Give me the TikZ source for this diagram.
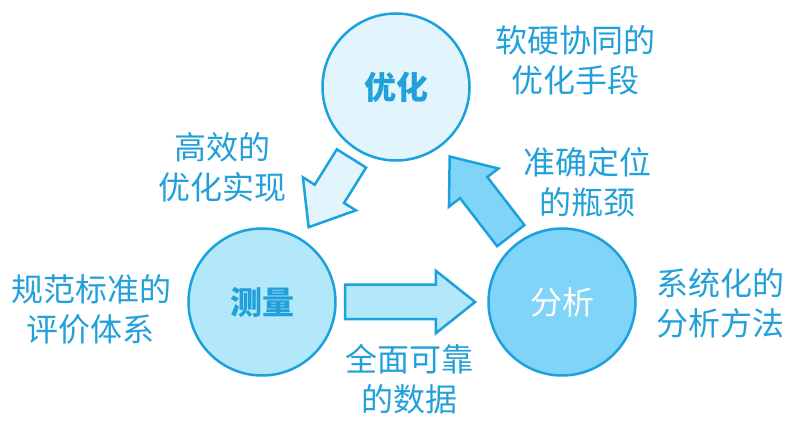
\documentclass[tikz,border=0pt]{standalone}
\usepackage{fontspec}
\newfontfamily\cjk{Noto Sans CJK SC}
\usetikzlibrary{shapes.arrows, positioning}
\definecolor{lineblue}{HTML}{1BA1DD}
\definecolor{textblue}{HTML}{22A0DA}
\definecolor{fillA}{HTML}{E3F5FC}
\definecolor{fillB}{HTML}{B3E7FA}
\definecolor{fillC}{HTML}{7FD4F7}
\tikzset{
  stage/.style={circle, minimum size=147pt, inner sep=0pt, draw=lineblue, line width=2.5pt, font=\cjk\fontsize{32}{38}\selectfont},
  note/.style={align=center, inner sep=0pt, text=textblue, font=\cjk\fontsize{32}{40}\selectfont},
  blockarrow/.style={single arrow, draw=lineblue, line width=2.5pt, inner xsep=0pt, inner ysep=16pt, single arrow head extend=14pt, single arrow tip angle=77, sloped, allow upside down, anchor=tip}
}

\begin{document}
\begin{tikzpicture}[x=1pt, y=1pt]
  \useasboundingbox (0,0) rectangle (800,422);

  % --- Circulos ---
  \node (opt) [stage, fill=fillA, text=textblue] at (396,335) {\bfseries 优化};
  \node (msr) [stage, fill=fillB, text=textblue] at (262,120) {\bfseries 测量};
  \node (ana) [stage, fill=fillC, text=white] at (562,120) {分析};

  % --- Flechas de bloque ---
  \path (opt.center) -- (msr.center) node (a1) [blockarrow, fill=fillA, minimum height=81pt, pos=0.66] {};
  \path (msr.center) -- (ana.center) node (a2) [blockarrow, fill=fillB, minimum height=130pt, pos=0.717] {};
  \path (ana.center) -- (opt.center) node (a3) [blockarrow, fill=fillC, minimum height=100pt, pos=0.684] {};

  % --- Textos ---
  \node (tOpt) [note] at (575,362) {软硬协同的\\优化手段};
  \node (tEff) [note] at (222,255) {高效的\\优化实现};
  \node (tNeck) [note] at (587,240) {准确定位\\的瓶颈};
  \node (tStd) [note] at (91,113) {规范标准的\\评价体系};
  \node (tSys) [note] at (720,119) {系统化的\\分析方法};
  \node (tData) [note] at (409,43) {全面可靠\\的数据};

\end{tikzpicture}
\end{document}
